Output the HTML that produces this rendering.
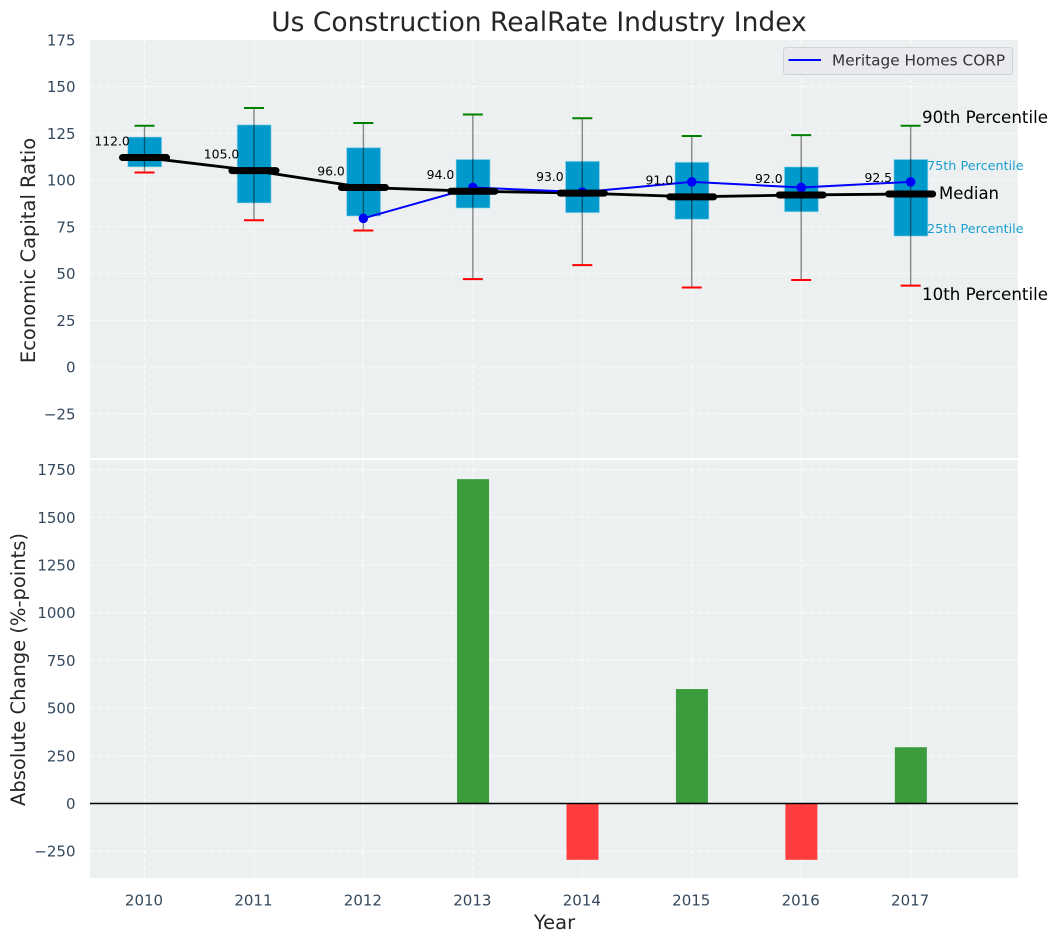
<!DOCTYPE html>
<html lang="en">
<head>
<meta charset="utf-8">
<title>Us Construction RealRate Industry Index</title>
<style>
html,body{margin:0;padding:0;background:#fff;}
svg{display:block;font-family:"DejaVu Sans","Liberation Sans",sans-serif;}
</style>
</head>
<body>
<svg id="chart" xmlns="http://www.w3.org/2000/svg" width="1057" height="942" viewBox="0 0 1057 942">
  <rect x="90" y="40" width="928" height="418" fill="#ecf0f1"/>
  <rect x="90" y="460" width="928" height="418" fill="#ecf0f1"/>
  <g id="grid"></g>
  <g id="bars"></g>
  <g id="boxes"></g>
  <g id="lines"></g>
  <g id="ticks"></g>
  <text x="539" y="31" text-anchor="middle" font-size="26.5" fill="#262626">Us Construction RealRate Industry Index</text>
  <text transform="translate(35,250.5) rotate(-90)" text-anchor="middle" font-size="19.5" fill="#262626">Economic Capital Ratio</text>
  <text transform="translate(25,669.5) rotate(-90)" text-anchor="middle" font-size="19.5" fill="#262626">Absolute Change (%-points)</text>
  <text x="554.5" y="929" text-anchor="middle" font-size="19.5" fill="#262626">Year</text>
  <g>
    <rect x="783.5" y="47.5" width="229" height="27" rx="3" fill="#e8eaee" stroke="#d0d3d6"/>
    <line x1="788.5" x2="821" y1="60" y2="60" stroke="#0000ff" stroke-width="2"/>
    <text x="832" y="65.5" font-size="15.3" fill="#333">Meritage Homes CORP</text>
  </g>
  <g>
    <text x="922" y="123" font-size="16.7" fill="#000">90th Percentile</text>
    <text x="927" y="170" font-size="12.8" fill="#1a9fcf">75th Percentile</text>
    <text x="939" y="199" font-size="16.5" fill="#000">Median</text>
    <text x="927" y="233" font-size="12.8" fill="#1a9fcf">25th Percentile</text>
    <text x="922" y="300" font-size="16.7" fill="#000">10th Percentile</text>
  </g>
</svg>
<script>
const years = [2010, 2011, 2012, 2013, 2014, 2015, 2016, 2017];
const p90 = [129, 138.5, 130.5, 135, 133, 123.5, 124, 129];
const p75 = [123, 129.5, 117.3, 111, 110, 109.5, 107, 111];
const medians = [112, 105, 96, 94, 93, 91, 92, 92.5];
const p25 = [107, 87.7, 80.7, 85, 82.5, 79, 83, 70];
const p10 = [104, 78.5, 73, 47, 54.5, 42.5, 46.5, 43.5];
const companyYears = [2012, 2013, 2014, 2015, 2016, 2017];
const companyValues = [79.5, 96, 93.5, 99, 96, 99];
const changeYears = [2013, 2014, 2015, 2016, 2017];
const changeValues = [1700, -295, 600, -295, 295];
const topTicks = [-25, 0, 25, 50, 75, 100, 125, 150, 175];
const bottomTicks = [-250, 0, 250, 500, 750, 1000, 1250, 1500, 1750];

const NS = 'http://www.w3.org/2000/svg';
function xScale(year) { return 144.5 + (year - 2010) * 109.45; }
function yTop(v) { return 367 - v * 1.87; }
function yBottom(v) { return 803.5 - v * 0.1908; }
function make(parent, tag, attrs) {
  const el = document.createElementNS(NS, tag);
  for (const k in attrs) el.setAttribute(k, attrs[k]);
  
  document.getElementById(parent).appendChild(el);
  return el;
}
function fmtTick(v) { return v < 0 ? '\u2212' + Math.abs(v) : String(v); }
const gridStyle = { stroke: '#ffffff', 'stroke-width': 1, 'stroke-dasharray': '5 2.5', opacity: 0.85 };

topTicks.forEach(function (t) {
  const y = yTop(t);
  if (t !== 175) {
    const g = make('grid', 'line', Object.assign({ x1: 90, x2: 1018, y1: y, y2: y }, gridStyle));
    
  }
  const label = make('ticks', 'text', { x: 75.5, y: y + 5.5, 'text-anchor': 'end', 'font-size': 15, fill: '#34495e' });
  
  label.textContent = fmtTick(t);
});
bottomTicks.forEach(function (t) {
  const y = yBottom(t);
  const g = make('grid', 'line', Object.assign({ x1: 90, x2: 1018, y1: y, y2: y }, gridStyle));
  
  const label = make('ticks', 'text', { x: 75.5, y: y + 5.5, 'text-anchor': 'end', 'font-size': 15, fill: '#34495e' });
  
  label.textContent = fmtTick(t);
});
years.forEach(function (yr) {
  const x = xScale(yr);
  const g1 = make('grid', 'line', Object.assign({ x1: x, x2: x, y1: 40, y2: 458 }, gridStyle));
  
  const g2 = make('grid', 'line', Object.assign({ x1: x, x2: x, y1: 460, y2: 878 }, gridStyle));
  
  const label = make('ticks', 'text', { x: x - 0.5, y: 905.5, 'text-anchor': 'middle', 'font-size': 15, fill: '#34495e' });
  
  label.textContent = String(yr);
});

changeYears.forEach(function (yr, i) {
  const v = changeValues[i];
  const y0 = yBottom(0);
  const y1 = yBottom(v);
  const bar = make('bars', 'rect', {
    x: xScale(yr) - 15.8, width: 32,
    y: Math.min(y0, y1), height: Math.abs(y1 - y0),
    fill: v >= 0 ? '#3b9c3d' : '#ff3c3e'
  });
  
});
const zero = make('bars', 'line', { x1: 90, x2: 1018, y1: yBottom(0), y2: yBottom(0), stroke: '#000', 'stroke-width': 1.4 });


years.forEach(function (yr, i) {
  const x = xScale(yr);
  const box = make('boxes', 'rect', {
    x: x - 16.8, width: 34, y: yTop(p75[i]), height: yTop(p25[i]) - yTop(p75[i]),
    fill: '#0099cc', stroke: '#a9dced', 'stroke-opacity': 0.6, 'stroke-width': 1
  });
  
  const whisker = make('boxes', 'line', {
    x1: x, x2: x, y1: yTop(p90[i]), y2: yTop(p10[i]),
    stroke: '#000', 'stroke-opacity': 0.45, 'stroke-width': 1.4
  });
  
  const hi = make('boxes', 'line', { x1: x - 10, x2: x + 10, y1: yTop(p90[i]), y2: yTop(p90[i]), stroke: '#008000', 'stroke-width': 2 });
  
  const lo = make('boxes', 'line', { x1: x - 10, x2: x + 10, y1: yTop(p10[i]), y2: yTop(p10[i]), stroke: '#ff0000', 'stroke-width': 2 });
  
});

const medianLine = make('lines', 'polyline', {
  points: years.map(function (yr, i) { return xScale(yr) + ',' + yTop(medians[i]); }).join(' '),
  fill: 'none', stroke: '#000', 'stroke-width': 2.8
});


const companyLine = make('lines', 'polyline', {
  points: companyYears.map(function (yr, i) { return xScale(yr) + ',' + yTop(companyValues[i]); }).join(' '),
  fill: 'none', stroke: '#0000ff', 'stroke-width': 2
});

companyYears.forEach(function (yr, i) {
  const dot = make('lines', 'circle', { cx: xScale(yr), cy: yTop(companyValues[i]), r: 4.8, fill: '#0000ff' });
  
});

years.forEach(function (yr, i) {
  const x = xScale(yr);
  const y = yTop(medians[i]);
  const seg = make('lines', 'line', {
    x1: x - 22, x2: x + 22, y1: y, y2: y,
    stroke: '#000', 'stroke-width': 7, 'stroke-linecap': 'round'
  });
  
  const label = make('lines', 'text', { x: x - 32.4, y: y - 12.2, 'text-anchor': 'middle', 'font-size': 12.4, fill: '#000' });
  
  label.textContent = medians[i].toFixed(1);
});
</script>
</body>
</html>
